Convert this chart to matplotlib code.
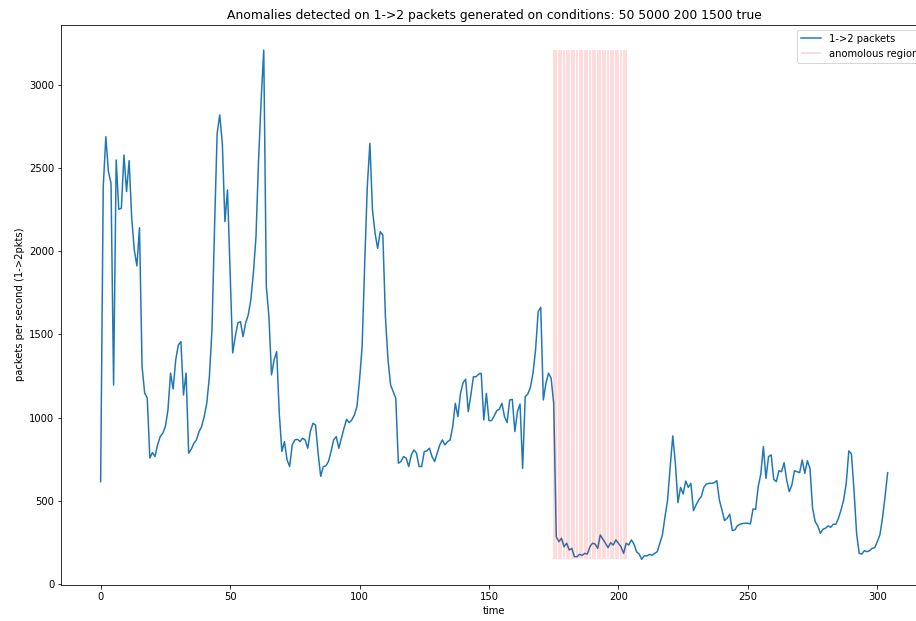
import numpy as np
import matplotlib
matplotlib.use("Agg")
import matplotlib.pyplot as plt

# packets per second, one value per time step
pkts_a = [615, 2389, 2689, 2479, 2409, 1196, 2549, 2253, 2259, 2579,
          2359, 2545, 2200, 2008, 1912, 2142, 1306, 1148, 1118, 757,
          790, 766, 836, 886, 906, 946, 1046, 1268, 1172, 1347,
          1437, 1457, 1136, 1268, 786, 810, 846, 866, 916, 946,
          1006, 1088, 1246, 1527, 2148, 2709, 2820, 2649, 2178, 2369,
          1870, 1389, 1487, 1569, 1577, 1487, 1569, 1617, 1707, 1870,
          2088, 2549, 2910, 3210, 1788, 1607, 1257, 1347, 1397, 1026,
          796, 856, 746, 706, 836, 866, 870, 856, 876, 866,
          816, 916, 966, 956, 786, 647, 706, 710, 736, 796]
pkts_b = [866, 886, 816, 876, 936, 990, 970, 986, 1016, 1066,
          1226, 1427, 1928, 2389, 2649, 2248, 2108, 2018, 2118, 2098,
          1607, 1347, 1196, 1156, 1116, 726, 736, 766, 756, 706,
          776, 806, 786, 706, 706, 796, 800, 816, 766, 736,
          786, 836, 866, 836, 856, 866, 946, 1086, 1006, 1146,
          1210, 1231, 1036, 1136, 1246, 1246, 1261, 1267, 986, 1146,
          982, 982, 1010, 1042, 1050, 1086, 1006, 970, 1106, 1110,
          916, 1036, 1082, 695, 1126, 1142, 1182, 1267, 1407, 1637,
          1663, 1106, 1206, 1267, 1237, 1086]
pkts_c = [284, 254, 275, 224, 245, 204, 214, 164, 164, 178,
          172, 184, 180, 224, 245, 240, 214, 295, 269, 245,
          218, 248, 234, 265, 245, 224, 184, 245, 234, 265,
          240, 194, 180, 148, 170, 168, 178, 172, 184, 194,
          245, 295, 405, 505, 705, 890, 725, 489, 581, 541,
          619, 581, 605]
pkts_d = [441, 475, 505, 525, 581, 601, 605, 605, 609, 621,
          505, 445, 381, 395, 419, 321, 325, 351, 359, 363,
          365, 365, 361, 451, 449, 585, 661, 826, 635, 766,
          776, 629, 615, 681, 675, 729, 625, 555, 595, 681,
          675, 669, 745, 665, 741, 695, 455, 375, 349, 305,
          329, 335, 349, 341, 359, 359, 395, 445, 505, 605,
          800, 782, 565, 305, 184, 180, 200, 194, 200, 214,
          218, 254, 295, 395, 525, 669]

pkts = np.array(pkts_a + pkts_b + pkts_c + pkts_d)
time = np.arange(len(pkts))

# anomalous time steps
anomaly = np.arange(175, 204)

fig = plt.figure(figsize=(916 / 72, 621 / 72), dpi=72)
ax = fig.add_axes([61.3 / 916, 36.2 / 621, 865.7 / 916, 560.2 / 621])

ax.plot(time, pkts, color="C0", label="1->2 packets")
ax.vlines(anomaly, pkts.min(), pkts.max(), color="red", alpha=0.14,
          linewidth=2, label="anomolous region")

ax.set_title("Anomalies detected on 1->2 packets generated on conditions: 50 5000 200 1500 true",
             fontsize=12.4)
ax.set_xlabel("time")
ax.set_ylabel("packets per second (1->2pkts)")
ax.legend(loc="upper right")

fig.savefig("out.png", dpi=72)
